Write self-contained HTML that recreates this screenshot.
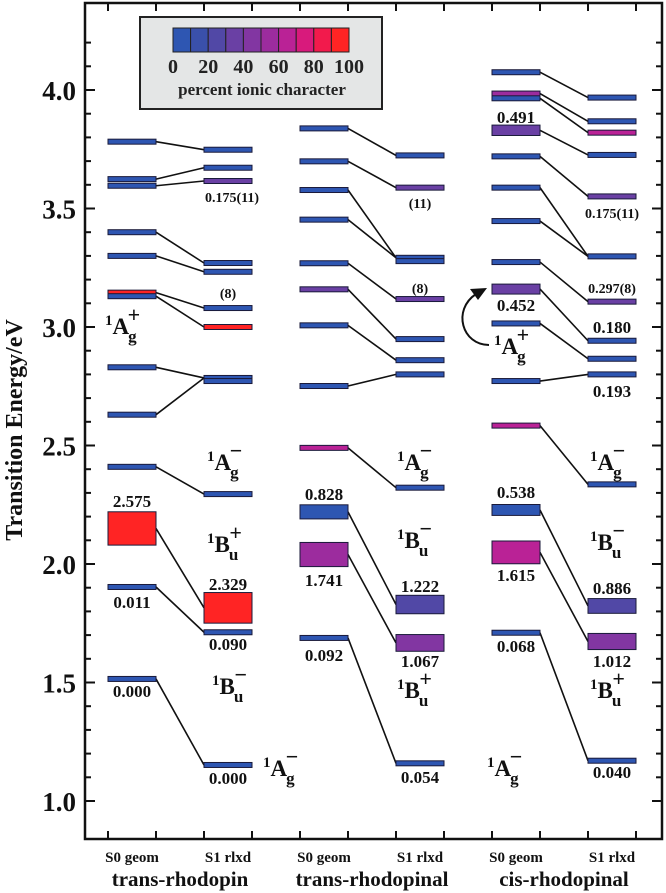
<!DOCTYPE html>
<html><head><meta charset="utf-8"><style>
html,body{margin:0;padding:0;background:#fff;}
svg{display:block;font-family:"Liberation Serif",serif;font-weight:bold;}
</style></head><body>
<svg id="chart" width="666" height="893" viewBox="0 0 666 893" xmlns="http://www.w3.org/2000/svg">
<g id="axes"></g>
<g id="links"></g>
<g id="bars"></g>
<g id="labels"></g>
<g>
<rect x="140" y="17" width="242" height="92" fill="#e4e6e6" stroke="#222" stroke-width="2"/>
<g id="cbar"></g>
<text x="262" y="95" font-size="17" text-anchor="middle" fill="#222">percent ionic character</text>
</g>
<text transform="translate(22,430) rotate(-90)" font-size="24" text-anchor="middle" fill="#111">Transition Energy/eV</text>
</svg>
<script>
const NS="http://www.w3.org/2000/svg";
// ----- data -----
const groupNames=["trans-rhodopin","trans-rhodopinal","cis-rhodopinal"];
const yTicks=[1.0,1.5,2.0,2.5,3.0,3.5,4.0];
const cbarTicks=[0,20,40,60,80,100];
const cbarColors=["#2e56b2","#3a50aa","#5148a6","#6a40a4","#8236a2","#9c2c9e","#ba2296","#d81a7c","#f21a4c","#ff2424"];
// group 1
const g1S0E=[3.782,3.624,3.596,3.40,3.30,3.145,3.13,2.83,2.63,2.41,2.15,1.903,1.515];
const g1S0F=[0,0,0,0,0,0,0,0,0,0,2.575,0,0];
const g1S0I=[5,5,5,5,5,95,5,5,5,5,95,5,5];
const g1S1E=[3.748,3.672,3.616,3.27,3.233,3.08,3.0,2.785,2.772,2.295,1.815,1.712,1.152];
const g1S1F=[0,0,0,0,0,0,0,0,0,0,2.329,0,0];
const g1S1I=[5,5,35,5,5,5,95,5,5,5,95,5,5];
const g1Links=[[0,0],[1,1],[2,2],[3,3],[4,4],[5,5],[6,6],[7,7],[8,7],[9,9],[10,10],[11,11],[12,12]];
// group 2
const g2S0E=[3.838,3.699,3.578,3.453,3.269,3.159,3.007,2.751,2.49,2.22,2.04,1.688];
const g2S0F=[0,0,0,0,0,0,0,0,0,0.828,1.741,0];
const g2S0I=[5,5,5,5,5,35,5,5,60,5,55,5];
const g2S1E=[3.724,3.588,3.292,3.278,3.118,2.949,2.86,2.80,2.322,1.829,1.667,1.159];
const g2S1F=[0,0,0,0,0,0,0,0,0,1.222,1.067,0];
const g2S1I=[5,35,5,5,35,5,5,5,5,25,40,5];
const g2Links=[[0,0],[1,1],[2,2],[3,2],[4,4],[5,5],[6,6],[7,7],[8,8],[9,9],[10,10],[11,11]];
// group 3
const g3S0E=[4.075,3.985,3.965,3.83,3.72,3.588,3.447,3.274,3.16,3.015,2.772,2.584,2.228,2.049,1.71];
const g3S0F=[0,0,0,0.491,0,0,0,0,0.452,0,0,0,0.538,1.615,0];
const g3S0I=[5,55,5,35,5,5,5,5,35,5,5,60,5,65,5];
const g3S1E=[3.968,3.868,3.82,3.726,3.551,3.298,3.107,2.942,2.866,2.80,2.336,1.823,1.673,1.17];
const g3S1F=[0,0,0,0,0,0,0,0,0,0,0,0.886,1.012,0];
const g3S1I=[5,5,60,5,35,5,35,5,5,5,5,25,45,5];
const g3Links=[[0,0],[1,1],[2,2],[3,3],[4,4],[5,5],[6,5],[7,6],[8,7],[9,8],[10,9],[11,10],[12,11],[13,12],[14,13]];
// ----- scales -----
const groupX=[108,300,492];
function yE(e){return 90+(4-e)*237;}
function barH(f){return 5+11*f;}
function colorFor(p){return cbarColors[Math.min(9,Math.floor(p/10))];}
function mk(tag,attrs,parent){const el=document.createElementNS(NS,tag);for(const k in attrs)el.setAttribute(k,attrs[k]);parent.appendChild(el);return el;}
const axes=document.getElementById('axes');
const bars=document.getElementById('bars');
const links=document.getElementById('links');
const labels=document.getElementById('labels');
// frame
const frame=mk('rect',{x:85,y:3,width:577,height:836,fill:'none',stroke:'#111','stroke-width':2.5},axes);


for(let i=10;i<=42;i++){const e=i/10;const y=yE(e);const major=(i%5===0);const L=major?10:6;
 const t1=mk('line',{x1:85,x2:85+L,y1:y,y2:y,stroke:'#111','stroke-width':2},axes);
 
 
 const t2=mk('line',{x1:662-L,x2:662,y1:y,y2:y,stroke:'#111','stroke-width':2},axes);
 
 }
yTicks.forEach(v=>{const t=mk('text',{x:76,y:yE(v)+10,'font-size':27,'text-anchor':'end',fill:'#111'},axes);t.textContent=v.toFixed(1);
 
 });
groupX.forEach((gx,gi)=>{[0,48,96,144].forEach(d=>{
 const a=mk('line',{x1:gx+d,x2:gx+d,y1:3,y2:11,stroke:'#111','stroke-width':2},axes);
 
 
 const b=mk('line',{x1:gx+d,x2:gx+d,y1:831,y2:839,stroke:'#111','stroke-width':2},axes);
 
 });
 const s0=mk('text',{x:gx+24,y:862,'font-size':15,'text-anchor':'middle',fill:'#111'},axes);s0.textContent='S0 geom';
 
 
 const s1=mk('text',{x:gx+120,y:862,'font-size':15,'text-anchor':'middle',fill:'#111'},axes);s1.textContent='S1 rlxd';
 
 
 const gn=mk('text',{x:gx+72,y:886,'font-size':21,'text-anchor':'middle',fill:'#111'},axes);gn.textContent=groupNames[gi];
 
 });
// colorbar
const cb=document.getElementById('cbar');
cbarColors.forEach((c,i)=>{const r=mk('rect',{x:173+i*17.6,y:28,width:17.6,height:24,fill:c,stroke:'#222','stroke-width':1},cb);
 
 });
cbarTicks.forEach((v,i)=>{const t=mk('text',{x:173+i*35.2,y:73,'font-size':20,'text-anchor':'middle',fill:'#222'},cb);t.textContent=v;
 
 });
// bars & links
const groups=[[g1S0E,g1S0F,g1S0I,g1S1E,g1S1F,g1S1I,g1Links],[g2S0E,g2S0F,g2S0I,g2S1E,g2S1F,g2S1I,g2Links],[g3S0E,g3S0F,g3S0I,g3S1E,g3S1F,g3S1I,g3Links]];
function drawBar(x,e,f,ion){const h=barH(f);const r=mk('rect',{x:x,y:yE(e)-h/2,width:48,height:h,fill:colorFor(ion),stroke:'#1a1a3a','stroke-width':1},bars);
 
 }
groups.forEach((g,gi)=>{const gx=groupX[gi];
 g[0].forEach((e,i)=>drawBar(gx,e,g[1][i],g[2][i]));
 g[3].forEach((e,i)=>drawBar(gx+96,e,g[4][i],g[5][i]));
 g[6].forEach(([a,b])=>{const l=mk('line',{x1:gx+48,y1:yE(g[0][a]),x2:gx+96,y2:yE(g[3][b]),stroke:'#111','stroke-width':1.6},links);
  
  });});
// annotations
function num(x,y,s,fs){const t=mk('text',{x:x,y:y,'font-size':fs||17,'text-anchor':'middle',fill:'#111'},labels);t.textContent=s;
 
 }
function term(x,y,L,sub,sign){const t=mk('text',{x:x,y:y,fill:'#111','font-size':23},labels);
 
 
 t.innerHTML='<tspan font-size="15" dy="-9">1</tspan><tspan dy="9">'+L+'</tspan><tspan font-size="17" dy="8" dx="-1">'+sub+'</tspan><tspan font-size="22" dy="-20" dx="-9">'+sign+'</tspan>';}
num(232,202,'0.175(11)',14);num(228,298,'(8)',14);
term(105,334,'A','g','+');
term(207,470,'A','g','−');num(132,507,'2.575');term(207,552,'B','u','+');
num(228,590,'2.329');num(132,608,'0.011');num(228,650,'0.090');term(212,694,'B','u','−');
num(132,697,'0.000');num(228,784,'0.000');term(263,776,'A','g','−');
num(420,208,'(11)',14);num(420,293,'(8)',14);
term(397,470,'A','g','−');num(324,500,'0.828');term(397,548,'B','u','−');
num(324,586,'1.741');num(420,592,'1.222');num(324,661,'0.092');num(420,667,'1.067');
term(397,698,'B','u','+');num(420,783,'0.054');
num(516,123,'0.491');num(612,218,'0.175(11)',14);num(612,293,'0.297(8)',14);
num(516,311,'0.452');num(612,333,'0.180');num(612,397,'0.193');
term(494,354,'A','g','+');
const arr=mk('path',{d:'M489,345 C462,345 452,310 476,294',fill:'none',stroke:'#111','stroke-width':2},labels);


const ah=mk('path',{d:'M487,288 L470,289 L478,300 Z',fill:'#111'},labels);


term(590,470,'A','g','−');num(516,498,'0.538');term(590,550,'B','u','−');
num(516,581,'1.615');num(612,594,'0.886');num(516,652,'0.068');num(612,667,'1.012');
term(590,698,'B','u','+');term(487,776,'A','g','−');num(612,778,'0.040');
</script>
</body></html>
